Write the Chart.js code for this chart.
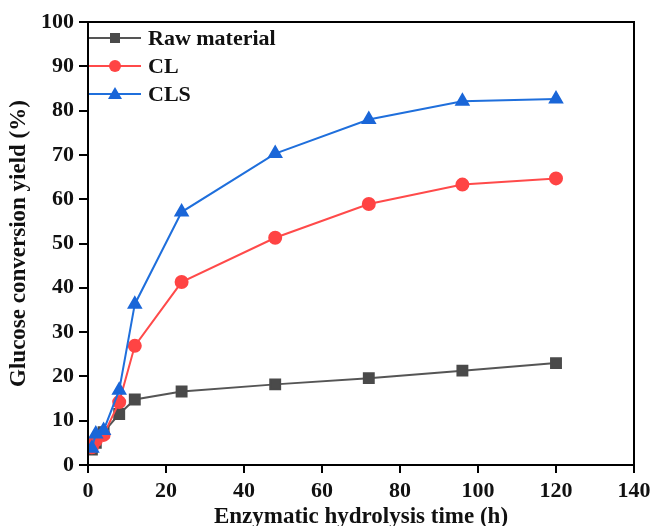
<!DOCTYPE html>
<html lang="en">
<head>
    <meta charset="UTF-8">
    <title>Glucose conversion yield</title>
    <script src="https://cdn.jsdelivr.net/npm/chart.js"></script>
    <style>
        html, body { margin: 0; padding: 0; background: #fff; }
        #wrap { width: 653px; height: 526px; }
    </style>
</head>
<body>
    <div id="wrap"><canvas id="yieldChart" width="653" height="526"></canvas></div>
    <script>
        // hydrolysis time (h) and yields (%)
        const times = [1, 2, 4, 8, 12, 24, 48, 72, 96, 120];
        const rawMaterial = [3.5, 5.0, 7.4, 11.5, 14.8, 16.6, 18.2, 19.6, 21.3, 23.0];
        const cl = [4.0, 5.5, 6.8, 14.2, 26.9, 41.3, 51.3, 58.9, 63.3, 64.7];
        const cls = [3.8, 7.0, 7.8, 16.9, 36.3, 57.1, 70.3, 78.0, 82.1, 82.6];

        const FONT = '"Liberation Serif", "Times New Roman", serif';

        const toPoints = ys => times.map((t, i) => ({ x: t, y: ys[i] }));

        // frame round the plot area
        const framePlugin = {
            id: 'frame',
            afterDraw(chart) {
                const a = chart.chartArea, ctx = chart.ctx;
                ctx.save();
                ctx.strokeStyle = '#000';
                ctx.lineWidth = 2;
                ctx.strokeRect(a.left, a.top, a.right - a.left, a.bottom - a.top);
                ctx.restore();
            }
        };

        // legend with line + marker, inside the top left corner
        const legendPlugin = {
            id: 'innerLegend',
            afterDraw(chart) {
                const ctx = chart.ctx, a = chart.chartArea;
                ctx.save();
                ctx.font = 'bold 22px ' + FONT;
                ctx.textBaseline = 'middle';
                chart.data.datasets.forEach((ds, i) => {
                    const y = a.top + 16 + i * 28;
                    const x0 = a.left + 1, x1 = a.left + 53, xm = (x0 + x1) / 2;
                    ctx.strokeStyle = ds.borderColor;
                    ctx.lineWidth = 2;
                    ctx.beginPath(); ctx.moveTo(x0, y); ctx.lineTo(x1, y); ctx.stroke();
                    ctx.fillStyle = ds.pointBackgroundColor;
                    ctx.beginPath();
                    if (ds.pointStyle === 'rect') {
                        ctx.rect(xm - 5, y - 5, 10, 10);
                    } else if (ds.pointStyle === 'circle') {
                        ctx.arc(xm, y, 6, 0, Math.PI * 2);
                    } else {
                        ctx.moveTo(xm, y - 7); ctx.lineTo(xm + 7, y + 5); ctx.lineTo(xm - 7, y + 5); ctx.closePath();
                    }
                    ctx.fill();
                    ctx.fillStyle = '#111';
                    ctx.fillText(ds.label, x1 + 7, y + 1);
                });
                ctx.restore();
            }
        };

        const ctx = document.getElementById('yieldChart').getContext('2d');
        new Chart(ctx, {
            type: 'line',
            data: {
                datasets: [{
                    label: 'Raw material',
                    data: toPoints(rawMaterial),
                    borderColor: '#555555',
                    pointBackgroundColor: '#4a4a4a',
                    pointBorderColor: '#4a4a4a',
                    pointStyle: 'rect',
                    pointRadius: 7,
                    borderWidth: 2,
                    order: 2
                }, {
                    label: 'CL',
                    data: toPoints(cl),
                    borderColor: '#ff4a4a',
                    pointBackgroundColor: '#ff4444',
                    pointBorderColor: '#ff4444',
                    pointStyle: 'circle',
                    pointRadius: 6,
                    borderWidth: 2,
                    order: 1
                }, {
                    label: 'CLS',
                    data: toPoints(cls),
                    borderColor: '#1f6fdc',
                    pointBackgroundColor: '#1a66d8',
                    pointBorderColor: '#1a66d8',
                    pointStyle: 'triangle',
                    pointRadius: 7,
                    borderWidth: 2,
                    order: 0
                }]
            },
            options: {
                responsive: false,
                animation: false,
                events: [],
                layout: { padding: { top: 22, right: 19, left: 0, bottom: 0 } },
                plugins: { legend: { display: false }, tooltip: { enabled: false } },
                scales: {
                    x: {
                        type: 'linear',
                        min: 0,
                        max: 140,
                        ticks: {
                            stepSize: 20,
                            color: '#111',
                            font: { family: FONT, size: 22, weight: 'bold' },
                            padding: 5
                        },
                        grid: { drawOnChartArea: false, color: '#000', tickLength: 8, lineWidth: 2 },
                        border: { color: '#000', width: 2 },
                        title: {
                            display: true,
                            text: 'Enzymatic hydrolysis time (h)',
                            color: '#111',
                            font: { family: FONT, size: 23, weight: 'bold', lineHeight: 0.75 },
                            padding: { top: 0, bottom: 0 }
                        },
                        afterFit(scale) {
                            scale.height = 61;
                            scale.paddingLeft = 0;
                            scale.paddingRight = 0;
                        }
                    },
                    y: {
                        min: 0,
                        max: 100,
                        ticks: {
                            stepSize: 10,
                            color: '#111',
                            font: { family: FONT, size: 22, weight: 'bold' },
                            padding: 5
                        },
                        grid: { drawOnChartArea: false, color: '#000', tickLength: 9, lineWidth: 2 },
                        border: { color: '#000', width: 2 },
                        title: {
                            display: true,
                            text: 'Glucose conversion yield (%)',
                            color: '#111',
                            font: { family: FONT, size: 23, weight: 'bold', lineHeight: 1 },
                            padding: { top: 8, bottom: 0 }
                        },
                        afterFit(scale) {
                            scale.width = 88;
                            scale.paddingTop = 0;
                            scale.paddingBottom = 0;
                        }
                    }
                }
            },
            plugins: [framePlugin, legendPlugin]
        });
    </script>
</body>
</html>
